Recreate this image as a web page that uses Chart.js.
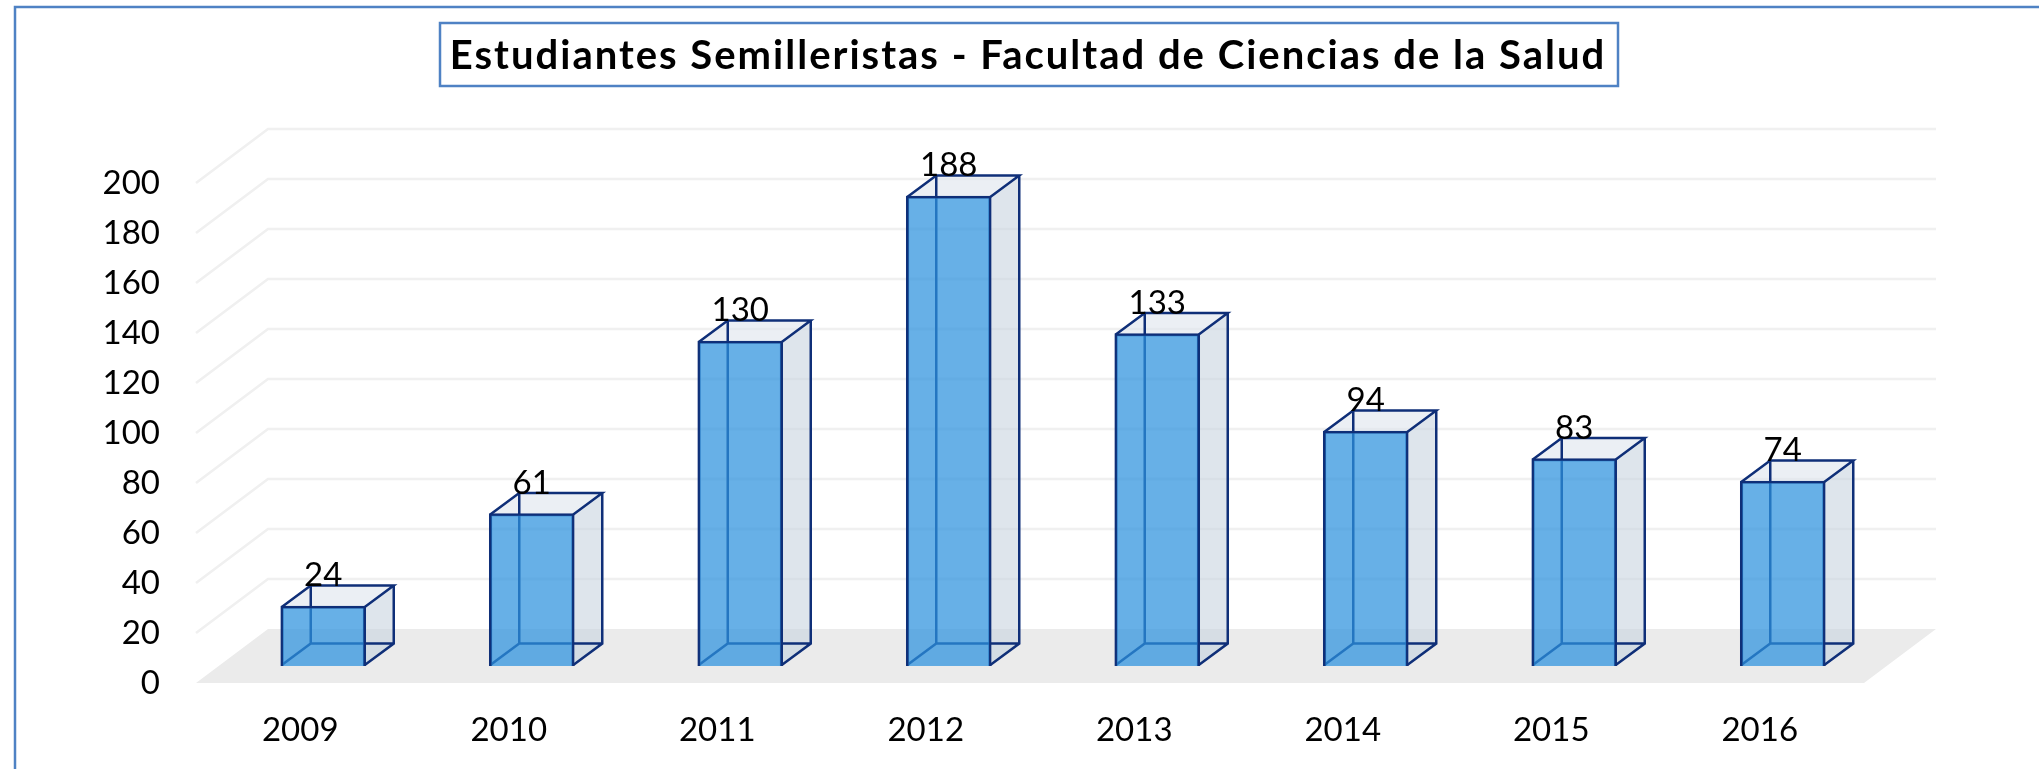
<!DOCTYPE html>
<html lang="es">
<head>
<meta charset="utf-8">
<title>Estudiantes Semilleristas</title>
<script src="https://cdn.jsdelivr.net/npm/chart.js@4"></script>
<style>
    html, body { margin: 0; padding: 0; background: #fff; }
    canvas { display: block; }
</style>
</head>
<body>
<canvas id="chart" width="2039" height="769"></canvas>
<script>
const chartTitle = 'Estudiantes Semilleristas - Facultad de Ciencias de la Salud';
const years = ['2009', '2010', '2011', '2012', '2013', '2014', '2015', '2016'];
const students = [24, 61, 130, 188, 133, 94, 83, 74];

const fontFamily = 'Lato, "Open Sans", sans-serif';
const frameColor = '#4f82c4';
const edgeColor = '#0f2f78';

// fake 3d: how far the back wall sits from the front of the floor, and the depth of one box
const wallDx = 72, wallDy = 54;
const boxDx = 29, boxDy = 21.5;
// bars stand on the floor, a bit in from its front edge
const barLiftUnits = 6.8;
const barShiftUnits = 23 / 208.5;

const scene3d = {
    id: 'scene3d',
    beforeDatasetsDraw(chart) {
        const { ctx } = chart;
        const y = chart.scales.y;
        const left = chart.chartArea.left, right = chart.chartArea.right;
        const y0 = y.getPixelForValue(0);

        ctx.save();
        // floor
        ctx.fillStyle = '#ebebeb';
        ctx.beginPath();
        ctx.moveTo(left, y0);
        ctx.lineTo(left + wallDx, y0 - wallDy);
        ctx.lineTo(right + wallDx, y0 - wallDy);
        ctx.lineTo(right, y0);
        ctx.closePath();
        ctx.fill();

        // grid on the side and back walls
        ctx.strokeStyle = '#f0f0f0';
        ctx.lineWidth = 2.5;
        y.ticks.forEach(t => {
            if (t.value === 0) return;
            const py = y.getPixelForValue(t.value);
            ctx.beginPath();
            ctx.moveTo(left, py);
            ctx.lineTo(left + wallDx, py - wallDy);
            ctx.lineTo(right + wallDx, py - wallDy);
            ctx.stroke();
        });

        // box faces and back edges, the library paints the front face over them
        chart.getDatasetMeta(0).data.forEach(bar => {
            const l = bar.x - bar.width / 2 + 1, r = bar.x + bar.width / 2 - 1;
            const t = bar.y + 1, b = bar.base - 1;

            const face = (points, color) => {
                ctx.fillStyle = color;
                ctx.beginPath();
                points.forEach((p, i) => i ? ctx.lineTo(p[0], p[1]) : ctx.moveTo(p[0], p[1]));
                ctx.closePath();
                ctx.fill();
            };
            face([[l, b], [l + boxDx, b - boxDy], [r + boxDx, b - boxDy], [r, b]], 'rgba(222,229,236,0.55)');
            face([[r, t], [r + boxDx, t - boxDy], [r + boxDx, b - boxDy], [r, b]], 'rgba(200,212,224,0.6)');
            face([[l, t], [l + boxDx, t - boxDy], [r + boxDx, t - boxDy], [r, t]], 'rgba(222,229,237,0.6)');

            ctx.strokeStyle = edgeColor;
            ctx.lineWidth = 2.5;
            ctx.beginPath();
            ctx.moveTo(l, t);
            ctx.lineTo(l + boxDx, t - boxDy);
            ctx.lineTo(r + boxDx, t - boxDy);
            ctx.lineTo(r, t);
            ctx.moveTo(l + boxDx, t - boxDy);
            ctx.lineTo(l + boxDx, b - boxDy);
            ctx.moveTo(r + boxDx, t - boxDy);
            ctx.lineTo(r + boxDx, b - boxDy);
            ctx.lineTo(r, b);
            ctx.moveTo(l, b);
            ctx.lineTo(l + boxDx, b - boxDy);
            ctx.lineTo(r + boxDx, b - boxDy);
            ctx.stroke();
        });
        ctx.restore();
    },
    afterDatasetsDraw(chart) {
        const { ctx } = chart;
        ctx.save();
        ctx.font = '33px ' + fontFamily;
        ctx.fillStyle = '#000';
        ctx.textAlign = 'center';
        ctx.textBaseline = 'alphabetic';
        chart.getDatasetMeta(0).data.forEach((bar, i) => {
            ctx.fillText(students[i], bar.x, bar.y - 20);
        });
        ctx.restore();
    },
    afterDraw(chart) {
        const { ctx } = chart;
        ctx.save();
        // outer frame runs off the right and bottom of the picture
        ctx.strokeStyle = frameColor;
        ctx.lineWidth = 2.5;
        ctx.strokeRect(15, 7, 2200, 900);
        ctx.strokeRect(440, 23, 1178, 63);

        ctx.font = 'bold 40px ' + fontFamily;
        ctx.letterSpacing = '2px';
        ctx.fillStyle = '#000';
        ctx.textAlign = 'center';
        ctx.textBaseline = 'alphabetic';
        ctx.fillText(chartTitle, 1028, 69);
        ctx.restore();
    }
};

new Chart(document.getElementById('chart'), {
    type: 'bar',
    plugins: [scene3d],
    data: {
        datasets: [{
            data: years.map((year, i) => ({ x: Number(year), y: students[i] })),
            xAxisID: 'xBar',
            yAxisID: 'yBar',
            barThickness: 85,
            backgroundColor: 'rgba(45,145,222,0.72)',
            borderColor: edgeColor,
            borderWidth: 2.5,
            clip: false
        }]
    },
    options: {
        responsive: false,
        animation: false,
        layout: { padding: { left: 0, right: 175, top: 183, bottom: 0 } },
        plugins: {
            legend: { display: false },
            tooltip: { enabled: false }
        },
        scales: {
            x: {
                type: 'category',
                labels: years,
                offset: true,
                grid: { display: false },
                border: { display: false },
                ticks: { color: '#000', font: { family: fontFamily, size: 33 }, padding: 20, maxRotation: 0, autoSkip: false },
                afterFit: scale => { scale.height = 86; }
            },
            y: {
                min: 0,
                max: 200,
                grid: { display: false },
                border: { display: false },
                ticks: { stepSize: 20, color: '#000', font: { family: fontFamily, size: 33 }, padding: 28 },
                afterFit: scale => { scale.width = 196; }
            },
            xBar: {
                type: 'linear',
                axis: 'x',
                display: false,
                offset: false,
                min: Number(years[0]) - 0.5 - barShiftUnits,
                max: Number(years[years.length - 1]) + 0.5 - barShiftUnits
            },
            yBar: {
                type: 'linear',
                axis: 'y',
                display: false,
                min: -barLiftUnits,
                max: 200 - barLiftUnits
            }
        }
    }
});
</script>
</body>
</html>
